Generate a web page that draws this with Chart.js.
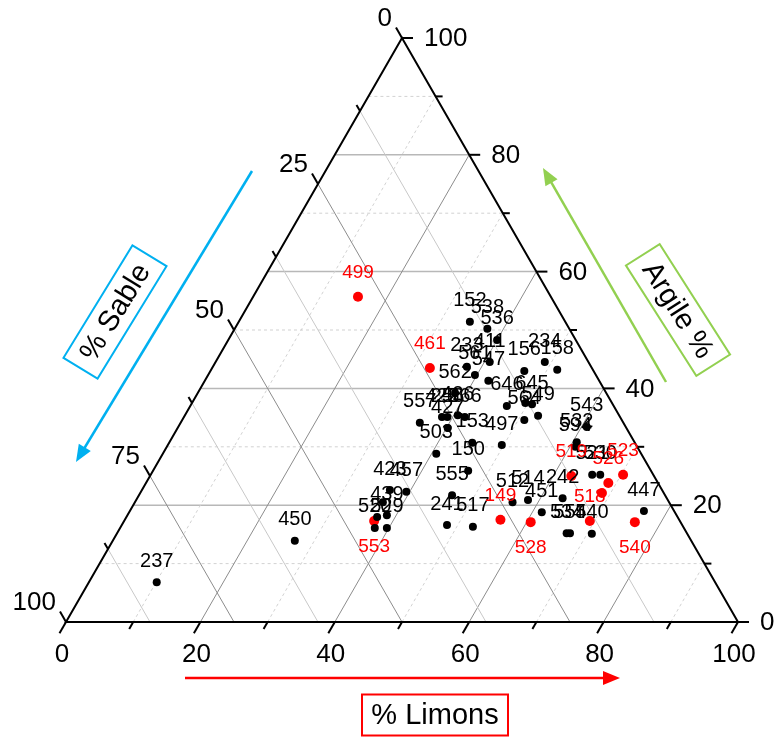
<!DOCTYPE html>
<html>
<head>
<meta charset="utf-8">
<script src="https://cdn.jsdelivr.net/npm/chart.js@4/dist/chart.umd.min.js"></script>
<style>
  html, body { margin: 0; padding: 0; background: #fff; }
  #wrap { width: 774px; height: 738px; }
</style>
</head>
<body>
<div id="wrap"><canvas id="soilChart"></canvas></div>
<script>
// samples: % Limons and % Argile (% Sable = 100 - both)
const blackIds = ['237', '450', '152', '538', '536', '411', '233', '561', '547', '234',
  '156', '158', '562', '646', '645', '', '564', '549', '557', '422',
  '566', '256', '426', '427', '503', '153', '497', '150', '555', '241',
  '517', '423', '457', '', '439', '', '520', '529', '512', '514',
  '242', '451', '534', '554', '540', '447', '530', '521', '543', '532', '594'];
const blackLimons = [10.1, 27.1, 34.4, 37.6, 40.0, 40.8, 37.8, 39.7, 42.2, 49.0,
  46.7, 51.5, 38.3, 47.1, 50.7, 49.6, 50.9, 52.6, 35.6, 38.4,
  41.8, 39.2, 40.6, 40.2, 40.7, 45.1, 49.7, 46.9, 46.6, 48.4,
  52.4, 36.9, 39.5, 36.9, 38.6, 37.3, 37.9, 39.7, 56.2, 58.3,
  63.3, 61.4, 66.9, 67.4, 70.7, 76.5, 66.9, 65.7, 60.8, 60.6, 60.8];
const blackArgile = [6.8, 13.9, 51.4, 50.2, 48.3, 44.5, 43.7, 42.3, 41.3, 44.5,
  43.0, 43.2, 39.2, 37.0, 37.3, 37.5, 34.6, 35.3, 34.1, 35.1,
  35.1, 35.1, 35.4, 33.2, 28.8, 30.7, 30.3, 25.9, 21.7, 16.6,
  16.3, 22.6, 22.3, 20.5, 18.3, 18.0, 16.1, 16.1, 20.5, 20.9,
  21.2, 18.8, 15.2, 15.2, 15.1, 19.0, 25.2, 25.2, 33.4, 30.8, 30.0];

const redIds = ['499', '461', '553', '149', '528', '519', '526', '523', '', '518', '540'];
const redLimons = [15.6, 32.4, 37.2, 55.9, 60.6, 62.7, 68.8, 70.3, 68.7, 69.3, 76.1];
const redArgile = [55.7, 43.5, 17.3, 17.5, 17.1, 25.0, 23.8, 25.2, 22.1, 17.3, 17.1];
const redBelow = ['553', '528', '540'];

const limonsTicks = [0, 20, 40, 60, 80, 100];
const argileTicks = [0, 20, 40, 60, 80, 100];
const sableTicks = [0, 25, 50, 75, 100];

const H = Math.sqrt(3) / 2;
const toXY = (l, a) => ({ x: l + a / 2, y: a * H });

const FONT = '"Liberation Sans", Arial, sans-serif';

const ternaryFrame = {
  id: 'ternaryFrame',
  beforeDatasetsDraw(chart) {
    const { ctx, scales: { x, y } } = chart;
    const P = (l, a) => { const p = toXY(l, a); return [x.getPixelForValue(p.x), y.getPixelForValue(p.y)]; };
    const seg = (p, q, color, w, dash) => {
      ctx.beginPath();
      ctx.strokeStyle = color;
      ctx.lineWidth = w;
      ctx.setLineDash(dash || []);
      ctx.moveTo(p[0], p[1]);
      ctx.lineTo(q[0], q[1]);
      ctx.stroke();
    };
    ctx.save();
    // argile: horizontal lines
    for (let a = 10; a < 100; a += 10) {
      if (a % 20 === 0) seg(P(0, a), P(100 - a, a), '#b8b8b8', 1.5);
      else seg(P(0, a), P(100 - a, a), '#d2d2d2', 1, [3, 3]);
    }
    // limons
    for (let l = 10; l < 100; l += 10) {
      if (l % 20 === 0) seg(P(l, 0), P(l, 100 - l), '#8c8c8c', 1);
      else seg(P(l, 0), P(l, 100 - l), '#d2d2d2', 1, [3, 3]);
    }
    // sable
    for (let s = 12.5; s < 100; s += 12.5) {
      if (s % 25 === 0) seg(P(0, 100 - s), P(100 - s, 0), '#8c8c8c', 1);
      else seg(P(0, 100 - s), P(100 - s, 0), '#c8c8c8', 1);
    }
    // frame
    ctx.setLineDash([]);
    ctx.beginPath();
    ctx.strokeStyle = '#000';
    ctx.lineWidth = 2;
    const A = P(0, 0), B = P(100, 0), C = P(0, 100);
    ctx.moveTo(A[0], A[1]); ctx.lineTo(B[0], B[1]); ctx.lineTo(C[0], C[1]); ctx.closePath();
    ctx.stroke();

    const tick = (p, dx, dy, len) => seg(p, [p[0] + dx * len, p[1] + dy * len], '#000', 2);
    ctx.fillStyle = '#000';
    ctx.font = '26px ' + FONT;
    // bottom: limons
    for (let l = 0; l <= 100; l += 10) {
      const p = P(l, 0);
      tick(p, -0.5, H, l % 20 === 0 ? 13 : 8);
    }
    ctx.textAlign = 'center'; ctx.textBaseline = 'middle';
    limonsTicks.forEach(l => { const p = P(l, 0); ctx.fillText(String(l), p[0] - 4, p[1] + 33); });
    // right: argile
    for (let a = 0; a <= 100; a += 10) {
      tick(P(100 - a, a), 1, 0, a % 20 === 0 ? 11 : 7);
    }
    ctx.textAlign = 'left';
    argileTicks.forEach(a => { const p = P(100 - a, a); ctx.fillText(String(a), p[0] + 22, p[1] + 1); });
    // left: sable
    for (let s = 0; s <= 100; s += 12.5) {
      tick(P(0, 100 - s), -0.5, -H, s % 25 === 0 ? 12 : 7);
    }
    ctx.textAlign = 'right';
    sableTicks.forEach(s => { const p = P(0, 100 - s); ctx.fillText(String(s), p[0] - 10, p[1] - 19); });
    ctx.restore();
  },
  afterDatasetsDraw(chart) {
    const { ctx } = chart;
    ctx.save();
    ctx.textAlign = 'center'; ctx.textBaseline = 'middle';
    chart.data.datasets.forEach((ds, i) => {
      const meta = chart.getDatasetMeta(i);
      const red = ds.label === 'red';
      ctx.fillStyle = red ? '#ff0000' : '#000';
      ctx.font = (red ? '19px ' : '20px ') + FONT;
      ds.ids.forEach((id, j) => {
        if (!id) return;
        const el = meta.data[j];
        const below = red && redBelow.includes(id);
        ctx.fillText(id, el.x, below ? el.y + 26 : el.y - (red ? 24 : 21));
      });
    });
    ctx.restore();
  },
  afterDraw(chart) {
    const { ctx, chartArea: ca } = chart;
    const arrow = (x0, y0, x1, y1, color) => {
      const ang = Math.atan2(y1 - y0, x1 - x0);
      ctx.strokeStyle = color; ctx.fillStyle = color; ctx.lineWidth = 2.5;
      ctx.beginPath();
      ctx.moveTo(x0, y0);
      ctx.lineTo(x1 - 12 * Math.cos(ang), y1 - 12 * Math.sin(ang));
      ctx.stroke();
      ctx.beginPath();
      ctx.moveTo(x1, y1);
      ctx.lineTo(x1 - 17 * Math.cos(ang) + 7 * Math.sin(ang), y1 - 17 * Math.sin(ang) - 7 * Math.cos(ang));
      ctx.lineTo(x1 - 17 * Math.cos(ang) - 7 * Math.sin(ang), y1 - 17 * Math.sin(ang) + 7 * Math.cos(ang));
      ctx.closePath();
      ctx.fill();
    };
    const boxed = (text, cx, cy, w, h, deg, color) => {
      ctx.save();
      ctx.translate(cx, cy);
      ctx.rotate(deg * Math.PI / 180);
      ctx.strokeStyle = color; ctx.lineWidth = 2;
      ctx.strokeRect(-w / 2, -h / 2, w, h);
      ctx.fillStyle = '#000';
      ctx.font = '29px ' + FONT;
      ctx.textAlign = 'center'; ctx.textBaseline = 'middle';
      ctx.fillText(text, 0, 1);
      ctx.restore();
    };
    const L = ca.left, T = ca.top, R = ca.right, B = ca.bottom;
    ctx.save();
    arrow(L + 119, B + 56, L + 554, B + 56, '#ff0000');
    boxed('% Limons', L + 369, B + 93, 146, 41, 0, '#ff0000');
    arrow(L + 186, T + 133, L + 10, T + 424, '#00b0f0');
    boxed('% Sable', L + 49, T + 274, 132, 40, -58.5, '#00b0f0');
    arrow(R - 72, T + 344, R - 195, T + 130, '#92d050');
    boxed('Argile %', R - 60, T + 272, 131, 40, 57.5, '#92d050');
    ctx.restore();
  }
};

new Chart(document.getElementById('soilChart'), {
  type: 'scatter',
  data: {
    datasets: [
      {
        label: 'black',
        ids: blackIds,
        data: blackIds.map((id, i) => toXY(blackLimons[i], blackArgile[i])),
        backgroundColor: '#000',
        borderWidth: 0,
        pointRadius: 4,
        clip: false
      },
      {
        label: 'red',
        ids: redIds,
        data: redIds.map((id, i) => toXY(redLimons[i], redArgile[i])),
        backgroundColor: '#ff0000',
        borderWidth: 0,
        pointRadius: 5,
        clip: false
      }
    ]
  },
  options: {
    responsive: true,
    maintainAspectRatio: false,
    animation: false,
    layout: { padding: { left: 66, right: 36, top: 38, bottom: 116 } },
    scales: {
      x: { type: 'linear', min: 0, max: 100, display: false },
      y: { type: 'linear', min: 0, max: 100 * H, display: false }
    },
    plugins: { legend: { display: false }, tooltip: { enabled: false } }
  },
  plugins: [ternaryFrame]
});
</script>
</body>
</html>
